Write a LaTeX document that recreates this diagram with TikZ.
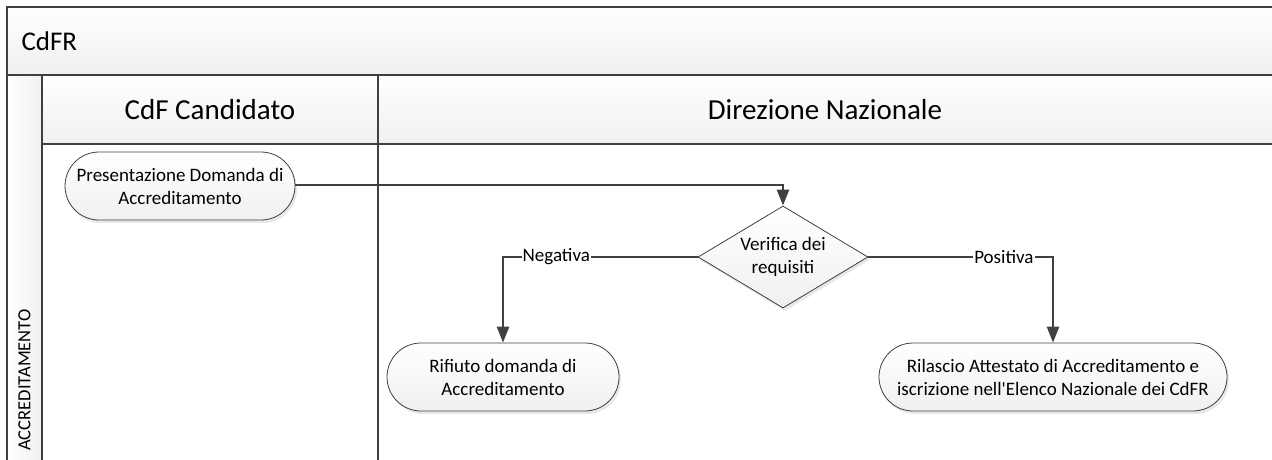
\documentclass[tikz,border=0pt]{standalone}
\usepackage{fontspec}
\setmainfont{Carlito}
\usetikzlibrary{arrows.meta,shapes.geometric,shapes.misc,shadows}
\definecolor{ln}{HTML}{404040}
\definecolor{fl}{HTML}{F0F0F0}
\tikzset{
  frame/.style={draw=ln,line width=2pt},
  hdr/.style={frame,top color=white,bottom color=fl},
  term/.style={draw=ln,line width=0.8pt,rounded rectangle,top color=white,bottom color=fl,
    align=center,font=\fontsize{19}{23}\selectfont,inner sep=0pt,
    drop shadow={shadow xshift=2pt,shadow yshift=-3pt,fill=black!18}},
  dec/.style={draw=ln,line width=0.8pt,diamond,aspect=1.7,top color=white,bottom color=fl,
    align=center,font=\fontsize{19}{23}\selectfont,inner sep=0pt,
    drop shadow={shadow xshift=2pt,shadow yshift=-3pt,fill=black!18}},
  flow/.style={draw=ln,line width=2.5pt,-{Triangle[length=16pt,width=12pt]}},
  lbl/.style={fill=white,inner sep=1pt,font=\fontsize{19}{22}\selectfont}
}
\begin{document}
\begin{tikzpicture}[x=1pt,y=-1pt]
\useasboundingbox (0,0) rectangle (1272,459);
% header row
\path[hdr] (7,7) rectangle (1290,75);
\node[anchor=west,font=\fontsize{27}{32}\selectfont] (title) at (18,41) {CdFR};
% lane strip
\path[hdr,left color=white,right color=fl] (7,75) rectangle (42,470);
\node[rotate=90,font=\fontsize{18.5}{22}\selectfont] (lane) at (24.5,380) {ACCREDITAMENTO};
% column headers
\path[hdr] (42,75) rectangle (378,144);
\path[hdr] (378,75) rectangle (1290,144);
\node[font=\fontsize{29}{34}\selectfont] (c1) at (210,110) {CdF Candidato};
\node[font=\fontsize{29}{34}\selectfont] (c2) at (825,110) {Direzione Nazionale};
% column bodies
\draw[frame] (42,144) -- (42,470);
\draw[frame] (378,144) -- (378,470);
% nodes
\node[term,minimum width=230pt,minimum height=68pt] (pres) at (180,186) {Presentazione Domanda di\\Accreditamento};
\node[dec,minimum width=170pt,minimum height=102pt] (ver) at (783,257) {Verifica dei\\requisiti};
\node[term,minimum width=232pt,minimum height=68pt] (rif) at (503,377) {Rifiuto domanda di\\Accreditamento};
\node[term,minimum width=348pt,minimum height=68pt] (ril) at (1053,377) {Rilascio Attestato di Accreditamento e\\iscrizione nell\textquotesingle Elenco Nazionale dei CdFR};
% connectors
\draw[flow] (pres.east |- 0,185) -| (ver.north);
\draw[flow] (ver.west) -| node[lbl,pos=0.363] {Negativa} (rif.north);
\draw[flow] (ver.east) -| node[lbl,pos=0.367] {Positiva} (ril.north);
\end{tikzpicture}
\end{document}
